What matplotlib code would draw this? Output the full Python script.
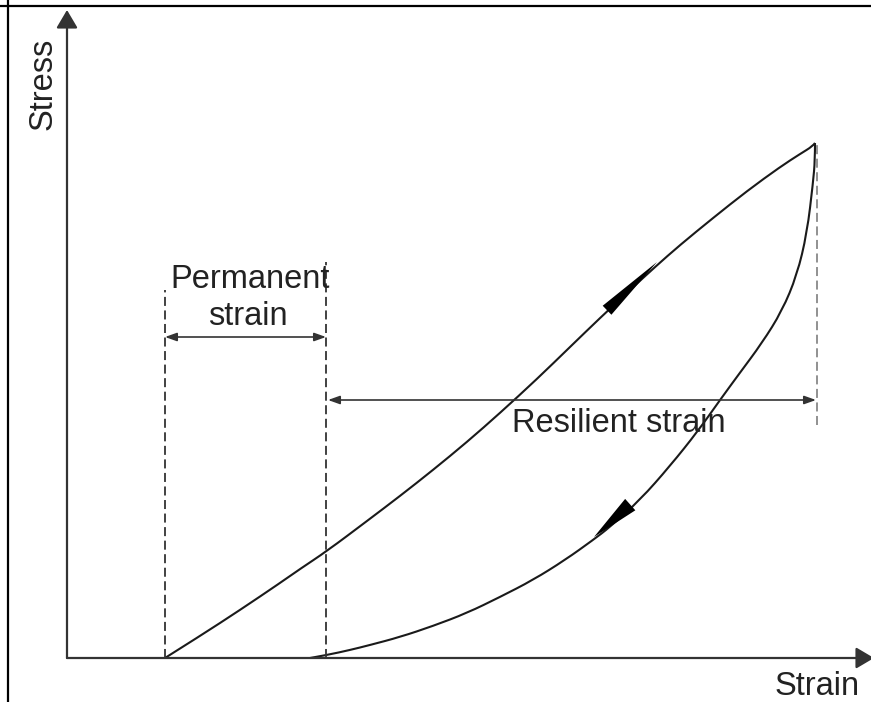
import matplotlib
matplotlib.use("Agg")
import matplotlib.pyplot as plt
from matplotlib.path import Path
import matplotlib.patches as pat

plt.rcParams['font.family'] = ['Liberation Sans', 'DejaVu Sans']

# loading branch (strain, stress)
load_strain = [98, 133, 173, 213, 233, 260, 300, 333, 366, 400, 433, 470,
               503, 533, 563, 588, 613, 646, 680, 713, 733, 746, 748]
load_stress = [0, 22, 48, 75, 89, 107, 137, 162, 188, 216, 245, 279,
               311, 340, 368, 391, 413, 440, 467, 491, 504, 512, 515]

# unloading branch
unload_strain = [748, 748, 746, 740, 730, 715, 695, 672, 653, 631, 603, 573,
                 543, 526, 498, 466, 433, 400, 366, 333, 303, 283, 260, 243]
unload_stress = [515, 498, 475, 425, 383, 347, 315, 284, 258, 227, 192, 158,
                 131, 118, 98, 78, 61, 45, 32, 21, 13, 8, 3, 0]

perm_start, perm_end = 98, 259      # permanent strain
res_start, res_end = 261, 749       # resilient strain
peak_strain = 750


def smooth_path(xs, ys):
    # quadratic bezier pieces through the midpoints, read points as controls
    pts = list(zip(xs, ys))
    verts = [pts[0]]
    codes = [Path.MOVETO]
    for i in range(1, len(pts) - 1):
        mid = ((pts[i][0] + pts[i + 1][0]) / 2, (pts[i][1] + pts[i + 1][1]) / 2)
        if i == len(pts) - 2:
            mid = pts[-1]
        verts += [pts[i], mid]
        codes += [Path.CURVE3, Path.CURVE3]
    return Path(verts, codes)


fig = plt.figure(figsize=(8.71, 7.02), dpi=100)
ax = fig.add_axes([0, 0, 1, 1])
ax.set_xlim(-67, 804)
ax.set_ylim(-44, 658)
ax.axis('off')

# frame (left and top only)
ax.axvline(-59, color='black', lw=1.6)
ax.axhline(652, color='black', lw=1.6)

# axes with arrows
ax.annotate('', xy=(0, 648), xytext=(0, 0), annotation_clip=False,
            arrowprops=dict(arrowstyle='-|>,head_length=1.1,head_width=0.65',
                            mutation_scale=10, color='#333333', lw=1.6,
                            shrinkA=0, shrinkB=0))
ax.annotate('', xy=(807, 0), xytext=(0, 0), annotation_clip=False,
            arrowprops=dict(arrowstyle='-|>,head_length=1.1,head_width=0.65',
                            mutation_scale=10, color='#333333', lw=1.6,
                            shrinkA=0, shrinkB=0))

# curves
ax.add_patch(pat.PathPatch(smooth_path(load_strain, load_stress),
                           facecolor='none', edgecolor='#1a1a1a', lw=1.5))
ax.add_patch(pat.PathPatch(smooth_path(unload_strain, unload_stress),
                           facecolor='none', edgecolor='#1a1a1a', lw=1.5))

# direction arrows on the curves
ax.annotate('', xy=(590, 396), xytext=(503, 312),
            arrowprops=dict(arrowstyle='-|>,head_length=5.0,head_width=0.45',
                            mutation_scale=10, color='black', lw=0,
                            shrinkA=0, shrinkB=0))
ax.annotate('', xy=(527, 121), xytext=(593, 180),
            arrowprops=dict(arrowstyle='-|>,head_length=3.5,head_width=0.55',
                            mutation_scale=10, color='black', lw=0,
                            shrinkA=0, shrinkB=0))

# dashed guides
ax.plot([perm_start, perm_start], [0, 368], color='#333333', lw=1.3,
        dashes=(5, 2.5))
ax.plot([perm_end, perm_end], [0, 396], color='#333333', lw=1.3,
        dashes=(5, 2.5))
ax.plot([peak_strain, peak_strain], [233, 515], color='#888888', lw=1.3,
        dashes=(5, 2.5))

# dimension arrows
ax.annotate('', xy=(perm_start, 321), xytext=(perm_end, 321),
            arrowprops=dict(arrowstyle='<|-|>,head_length=0.7,head_width=0.25',
                            mutation_scale=10, color='#333333', lw=1.2,
                            shrinkA=0, shrinkB=0))
ax.annotate('', xy=(res_start, 258), xytext=(res_end, 258),
            arrowprops=dict(arrowstyle='<|-|>,head_length=0.7,head_width=0.25',
                            mutation_scale=10, color='#333333', lw=1.2,
                            shrinkA=0, shrinkB=0))

# labels
fs = 23.5
tc = '#222222'
ax.text(-15, 528, 'Stress', rotation=90, rotation_mode='anchor',
        ha='left', va='baseline', fontsize=fs, color=tc)
ax.text(708, -37, 'Strain', ha='left', va='baseline', fontsize=fs, color=tc)
ax.text(183, 370, 'Permanent', ha='center', va='baseline', fontsize=fs, color=tc)
ax.text(181, 333, 'strain', ha='center', va='baseline', fontsize=fs, color=tc)
ax.text(445, 226, 'Resilient strain', ha='left', va='baseline', fontsize=fs,
        color=tc)

fig.savefig('out.png', dpi=100)
